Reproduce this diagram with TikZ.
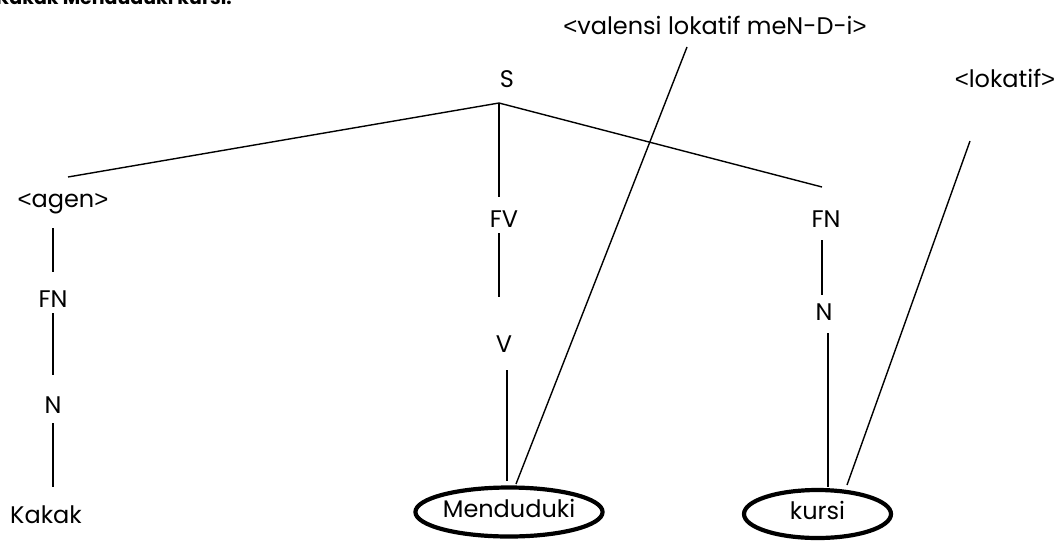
\documentclass[tikz,border=0pt]{standalone}
\usepackage{fontspec}
\setmainfont{Poppins}
\newfontfamily\bracketfont{Liberation Sans}
\newcommand\opnbr{{\bracketfont<}}
\newcommand\clsbr{{\bracketfont>}}
\usetikzlibrary{shapes.geometric}
\begin{document}
\begin{tikzpicture}[x=1pt,y=-1pt,
  lbl/.style={anchor=base,inner sep=0pt,font=\fontsize{24}{28}\selectfont},
  edge/.style={line width=1.4pt},
  ring/.style={ellipse,draw,line width=4.2pt,inner sep=0pt,
    text height=14pt,text depth=4pt,font=\fontsize{24}{28}\selectfont},
  captiontext/.style={anchor=base west,inner sep=0pt,font=\fontsize{19}{22}\selectfont\bfseries}]
\useasboundingbox (0,0) rectangle (1064,541);
\clip (0,0) rectangle (1064,541);

% caption line above the tree (cut by the page edge)
\node[captiontext] (caption) at (-4,4) {Kakak Menduduki kursi.};

% labels
\node[lbl] (val) at (715,34) {\opnbr valensi lokatif meN-D-i\clsbr};
\node[lbl] (s) at (507,87) {S};
\node[lbl] (agen) at (63,207) {\opnbr agen\clsbr};
\node[lbl] (fn1) at (53,307) {FN};
\node[lbl] (n1) at (53,413) {N};
\node[lbl] (kakak) at (46,523) {Kakak};
\node[lbl] (fv) at (504,227) {FV};
\node[lbl] (v) at (504,352) {V};
\node[lbl] (fn2) at (826,227) {FN};
\node[lbl] (n2) at (824,320) {N};
\node[lbl] (lok) at (1005,87) {\opnbr lokatif\clsbr};
\node[ring,minimum width=138pt,minimum height=49pt] (mend) at (509,512) {Menduduki};
\node[ring,minimum width=147pt,minimum height=48pt] (kursi) at (817.5,514) {kursi};

% line ends
\coordinate (s-root) at (499,103);
\coordinate (agen-top) at (68,177);
\coordinate (fv-top) at (499,197);
\coordinate (fn2-top) at (822,187);
\coordinate (agen-bot) at (53,228);
\coordinate (fn1-top) at (53,272);
\coordinate (fn1-bot) at (53,313);
\coordinate (n1-top) at (53,375);
\coordinate (n1-bot) at (53,423);
\coordinate (kakak-top) at (53,487);
\coordinate (fv-bot) at (499,233);
\coordinate (v-top) at (499,297);
\coordinate (v-bot) at (507,370);
\coordinate (mend-top) at (507,481);
\coordinate (fn2-bot) at (822,240);
\coordinate (n2-top) at (822,295);
\coordinate (n2-bot) at (828,333);
\coordinate (kursi-top) at (828,487);
\coordinate (val-end) at (687,47);
\coordinate (mend-right) at (516,484);
\coordinate (lok-end) at (970,141);
\coordinate (kursi-right) at (847,485);

% tree branches
\draw[edge] (agen-top) -- (s-root) -- (fn2-top);
\draw[edge] (s-root) -- (fv-top);
\draw[edge] (agen-bot) -- (fn1-top);
\draw[edge] (fn1-bot) -- (n1-top);
\draw[edge] (n1-bot) -- (kakak-top);
\draw[edge] (fv-bot) -- (v-top);
\draw[edge] (v-bot) -- (mend-top);
\draw[edge] (fn2-bot) -- (n2-top);
\draw[edge] (n2-bot) -- (kursi-top);

% role links
\draw[edge] (val-end) -- (mend-right);
\draw[edge] (lok-end) -- (kursi-right);
\end{tikzpicture}
\end{document}
